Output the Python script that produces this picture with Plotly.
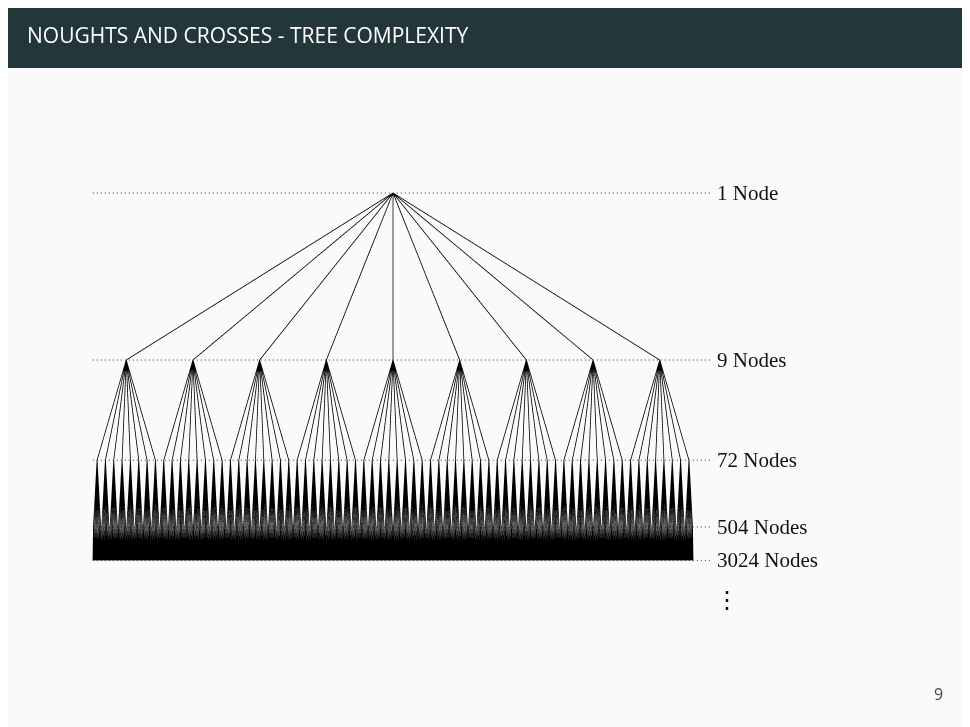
import plotly.graph_objects as go

# branching factor at each level of the noughts and crosses game tree
branching = [9, 8, 7, 6]
level_depth = [0, 5, 8, 10, 11]
level_labels = ["1 Node", "9 Nodes", "72 Nodes", "504 Nodes", "3024 Nodes"]

# number of nodes per level
counts = [1]
for b in branching:
    counts.append(counts[-1] * b)
n_leaves = counts[-1]

# x of each node = centre of the leaves under it
xs = []
for lvl, c in enumerate(counts):
    span = n_leaves // c
    xs.append([i * span + (span - 1) / 2 for i in range(c)])

fig = go.Figure()

ex, ey = [], []
for lvl, b in enumerate(branching):
    for p, px in enumerate(xs[lvl]):
        for k in range(b):
            cx = xs[lvl + 1][p * b + k]
            ex += [px, cx, None]
            ey += [level_depth[lvl], level_depth[lvl + 1], None]
fig.add_trace(go.Scattergl(x=ex, y=ey, mode="lines",
                           line=dict(color="black", width=0.8), hoverinfo="skip"))

x_end = n_leaves * 1.032
for d, lab in zip(level_depth, level_labels):
    fig.add_trace(go.Scatter(x=[-1, x_end], y=[d, d], mode="lines",
                             line=dict(color="#333", width=1, dash="1px,3px"), hoverinfo="skip"))
    fig.add_annotation(x=x_end, y=d, text=lab, showarrow=False, xanchor="left",
                       xshift=3, font=dict(family="Liberation Serif", size=21, color="#111"))
fig.add_annotation(x=x_end, y=level_depth[-1] + 1.2, text="⋮", showarrow=False,
                   xanchor="left", xshift=1, font=dict(family="Liberation Serif", size=24, color="#111"))

W, H, off = 970, 727, 8
scale = 600 / (n_leaves - 1)
x0 = -(93 - off) / scale
unit = 33.4
y0 = -(193 - off) / unit

fig.update_layout(
    width=W, height=H, margin=dict(l=0, r=0, t=0, b=0),
    paper_bgcolor="#fafafa", plot_bgcolor="#fafafa", showlegend=False,
    xaxis=dict(range=[x0, x0 + W / scale], visible=False, fixedrange=True),
    yaxis=dict(range=[y0 + H / unit, y0], visible=False, fixedrange=True),
    shapes=[dict(type="rect", xref="paper", yref="paper", x0=0, x1=1, y0=1 - 60 / H, y1=1,
                 fillcolor="#23373b", line=dict(width=0))],
)
fig.add_annotation(xref="paper", yref="paper", x=17 / W, y=1 - 27 / H, xanchor="left",
                   yanchor="middle", showarrow=False, text="NOUGHTS AND CROSSES - TREE COMPLEXITY",
                   font=dict(family="Open Sans", size=21, color="white"))
fig.add_annotation(xref="paper", yref="paper", x=937 / W, y=1 - 686 / H, xanchor="right",
                   yanchor="middle", showarrow=False, text="9",
                   font=dict(family="Open Sans", size=16, color="#444"))

fig.write_html("out.html")
